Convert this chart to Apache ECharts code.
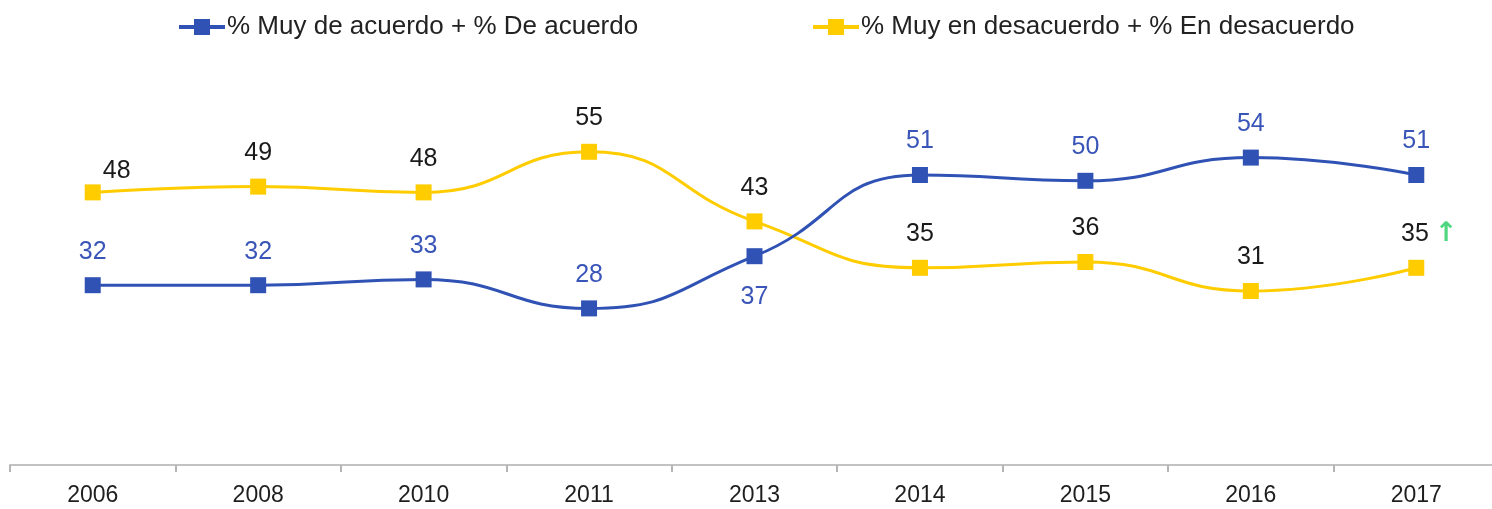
<!DOCTYPE html>
<html>
<head>
<meta charset="utf-8">
<script src="https://cdn.jsdelivr.net/npm/echarts@6/dist/echarts.min.js"></script>
<style>
html,body{margin:0;padding:0;background:#fff;overflow:hidden;}
#chart{width:1500px;height:509px;}
</style>
</head>
<body>
<div id="chart"></div>
<script>
const years = ['2006','2008','2010','2011','2013','2014','2015','2016','2017'];
const acuerdo = [32, 32, 33, 28, 37, 51, 50, 54, 51];
const desacuerdo = [48, 49, 48, 55, 43, 35, 36, 31, 35];
const seriesNames = ['% Muy de acuerdo + % De acuerdo', '% Muy en desacuerdo + % En desacuerdo'];

const FONT = '"Liberation Sans", Arial, sans-serif';
const BLUE = '#2f52b4';
const YELLOW = '#ffcc00';

const blueData = acuerdo.map((v, i) => {
  const d = { value: v };
  if (i === 4) d.label = { position: 'bottom', distance: 20 };
  return d;
});
const yellowData = desacuerdo.map((v, i) => {
  const d = { value: v };
  if (i === 0) d.label = { offset: [24, 12] };
  if (i === 8) d.label = {
    offset: [13, 0],
    formatter: '{v|{c}}{a|↑}',
    rich: {
      v: { fontSize: 25, lineHeight: 26, color: '#1a1a1a', fontFamily: FONT },
      a: { fontSize: 27, lineHeight: 26, fontWeight: 'bold', color: '#4fd67f', fontFamily: '"DejaVu Sans", sans-serif', padding: [0, 0, 0, 6] }
    }
  };
  return d;
});

const legendCommon = {
  top: 14, padding: 0,
  itemWidth: 46, itemHeight: 20, itemGap: 0,
  lineStyle: { width: 4 },
  textStyle: { fontSize: 26, color: '#222', fontFamily: FONT, padding: [0, 0, 0, -3] }
};

const chart = echarts.init(document.getElementById('chart'), null, { renderer: 'canvas' });
chart.setOption({
  animation: false,
  backgroundColor: '#fff',
  textStyle: { fontFamily: FONT },
  legend: [
    Object.assign({ data: [seriesNames[0]], left: 177 }, legendCommon),
    Object.assign({ data: [seriesNames[1]], left: 811 }, legendCommon)
  ],
  grid: { left: 10, right: 1, top: 117, bottom: 44, containLabel: false },
  xAxis: {
    type: 'category',
    data: years,
    boundaryGap: true,
    axisLine: { show: true, lineStyle: { color: '#c2c2c2', width: 2 } },
    axisTick: { show: true, length: 7, lineStyle: { color: '#b5b5b5', width: 2 } },
    axisLabel: { fontSize: 23, color: '#1e1e1e', margin: 19, fontFamily: FONT }
  },
  yAxis: {
    type: 'value', min: 1, max: 61,
    show: false, splitLine: { show: false }
  },
  series: [
    {
      name: seriesNames[0], type: 'line', data: blueData, smooth: 0.5,
      symbol: 'rect', symbolSize: 16,
      lineStyle: { color: BLUE, width: 3 },
      itemStyle: { color: BLUE },
      label: { show: true, position: 'top', distance: 13, fontSize: 25, color: '#3a55b8', fontFamily: FONT },
      z: 3
    },
    {
      name: seriesNames[1], type: 'line', data: yellowData, smooth: 0.5,
      symbol: 'rect', symbolSize: 16,
      lineStyle: { color: YELLOW, width: 3 },
      itemStyle: { color: YELLOW },
      label: { show: true, position: 'top', distance: 13, fontSize: 25, color: '#1a1a1a', fontFamily: FONT },
      z: 2
    }
  ]
});
</script>
</body>
</html>
